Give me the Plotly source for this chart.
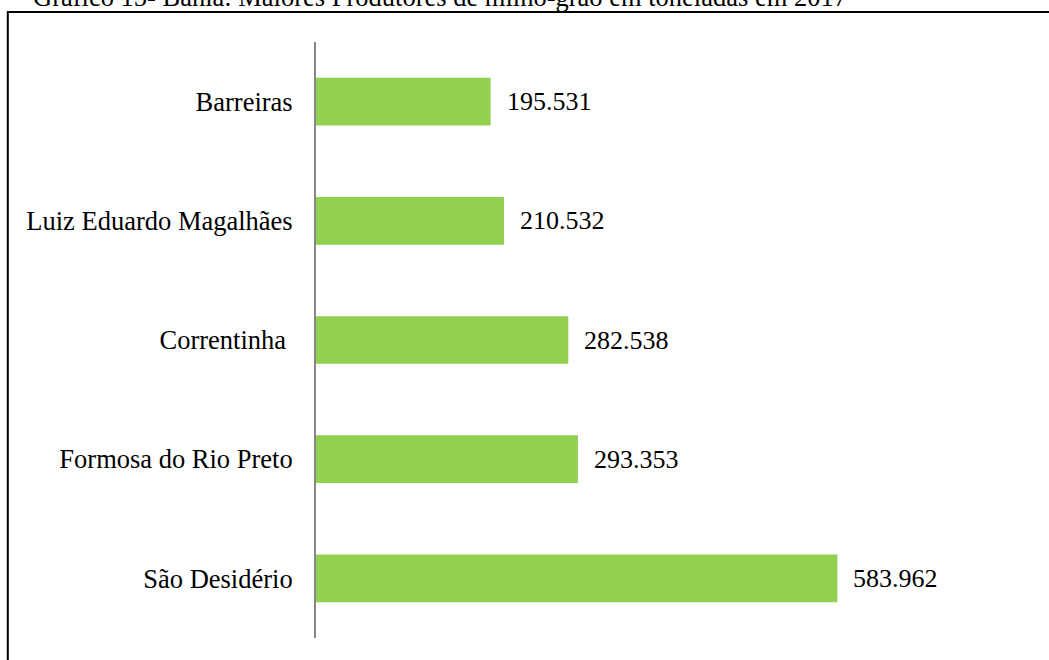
import plotly.graph_objects as go

# Maiores produtores de milho-grão na Bahia, 2017 (toneladas)
municipios = [
    "Barreiras",
    "Luiz Eduardo Magalhães",
    "Correntinha\u00a0",
    "Formosa do Rio Preto",
    "São Desidério",
]
producao_t = [195531, 210532, 282538, 293353, 583962]

titulo = "Gráfico 15- Bahia: Maiores Produtores de milho-grão em toneladas em 2017"

W, H = 1049, 660
PLOT_L, PLOT_R = 316, 940.6
PLOT_T, PLOT_B = 42, 638
X_MAX = 700000

def fmt_br(v):
    return f"{v:,}".replace(",", ".")

fig = go.Figure(
    go.Bar(
        x=producao_t,
        y=municipios,
        orientation="h",
        marker=dict(color="#92D050", line=dict(width=0)),
        width=0.4,
        hoverinfo="skip",
    )
)

# rótulos de valor à direita das barras
for m, v in zip(municipios, producao_t):
    fig.add_annotation(
        x=v, y=m, xref="x", yref="y",
        text=fmt_br(v), showarrow=False,
        xanchor="left", yanchor="middle", xshift=14,
        font=dict(family="Liberation Serif", size=26, color="#000000"),
    )

pw = PLOT_R - PLOT_L
ph = PLOT_B - PLOT_T

def px_x(p):
    return (p - PLOT_L) / pw

def px_y(p):
    return (PLOT_B - p) / ph

# moldura do gráfico
fig.add_shape(
    type="rect", xref="paper", yref="paper",
    x0=px_x(8), x1=px_x(1060), y0=px_y(680), y1=px_y(12),
    line=dict(color="#000000", width=2), fillcolor="rgba(0,0,0,0)",
    layer="above",
)

# título
fig.add_annotation(
    x=px_x(31), y=px_y(7), xref="paper", yref="paper",
    text=titulo, showarrow=False, xanchor="left", yanchor="bottom",
    font=dict(family="Liberation Serif", size=26.5, color="#000000"),
    yshift=-7,
)

fig.update_layout(
    width=W, height=H,
    margin=dict(l=PLOT_L, r=W - PLOT_R, t=PLOT_T, b=H - PLOT_B, pad=0),
    paper_bgcolor="#FFFFFF", plot_bgcolor="#FFFFFF",
    showlegend=False,
    font=dict(family="Liberation Serif", size=26, color="#000000"),
    bargap=0.6,
    xaxis=dict(range=[0, X_MAX], visible=False, fixedrange=True),
    yaxis=dict(
        autorange="reversed",
        showline=True, linecolor="#868686", linewidth=2,
        showgrid=False, zeroline=False, ticks="",
        ticklabelstandoff=16,
        tickfont=dict(family="Liberation Serif", size=26.5, color="#000000"),
        fixedrange=True,
    ),
)

fig.write_html("out.html")
